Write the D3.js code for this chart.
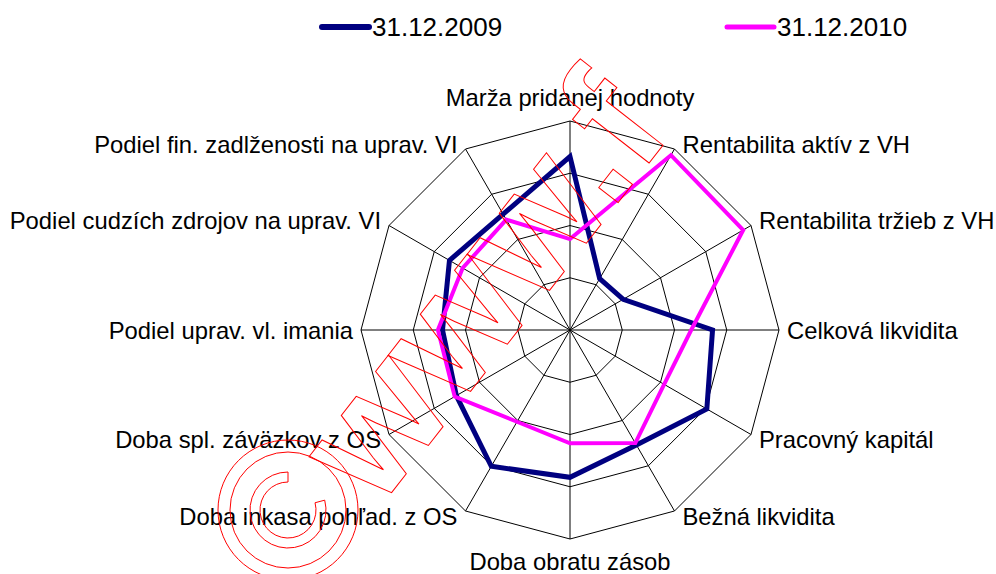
<!DOCTYPE html>
<html>
<head>
<meta charset="utf-8">
<script src="https://cdn.jsdelivr.net/npm/d3@7"></script>
<style>
  body { margin: 0; background: #fff; }
  svg { display: block; }
  text { font-family: "Liberation Sans", Arial, sans-serif; fill: #000; }
  .grid { fill: none; stroke: #000; stroke-width: 1; }
  .lbl { font-size: 23.8px; }
  .leg { font-size: 26px; }
  .wm { font-size: 165px; font-weight: bold; fill: none; stroke: #ff0000; stroke-width: 1; }
</style>
</head>
<body>
<svg id="chart" width="996" height="574"></svg>
<script>
// axis categories, clockwise from the top
var categories = [
  'Marža pridanej hodnoty',
  'Rentabilita aktív z VH',
  'Rentabilita tržieb z VH',
  'Celková likvidita',
  'Pracovný kapitál',
  'Bežná likvidita',
  'Doba obratu zásob',
  'Doba inkasa pohľad. z OS',
  'Doba spl. záväzkov z OS',
  'Podiel uprav. vl. imania',
  'Podiel cudzích zdrojov na uprav. VI',
  'Podiel fin. zadlženosti na uprav. VI'
];

// series values (share of the outer ring)
var values2009 = [0.83, 0.284, 0.294, 0.682, 0.756, 0.635, 0.705, 0.753, 0.628, 0.61, 0.666, 0.64];
var values2010 = [0.435, 0.966, 0.957, 0.58, 0.52, 0.625, 0.542, 0.507, 0.637, 0.632, 0.593, 0.61];

var seriesNames = ['31.12.2009', '31.12.2010'];
var ringTicks = [0.25, 0.5, 0.75, 1];

var svg = d3.select('#chart');
var cx = 570, cy = 330, R = 209;

var r = d3.scaleLinear().domain([0, 1]).range([0, R]);
var ang = d3.scaleLinear().domain([0, categories.length]).range([0, 2 * Math.PI]);

var g = svg.append('g').attr('transform', 'translate(' + cx + ',' + cy + ')');

function pt(i, v) {
  var a = ang(i);
  return [Math.sin(a) * r(v), -Math.cos(a) * r(v)];
}

//rings
ringTicks.forEach(function(t){
  g.append('polygon')
    .attr('class', 'grid')
    .attr('points', categories.map(function(c, i){ return pt(i, t).join(','); }).join(' '));
});

//spokes
categories.forEach(function(c, i){
  var p = pt(i, 1);
  g.append('line')
    .attr('class', 'grid')
    .attr('x1', 0).attr('y1', 0)
    .attr('x2', p[0]).attr('y2', p[1]);
});

//series lines
var radial = d3.lineRadial()
  .angle(function(d, i){ return ang(i); })
  .radius(function(d){ return r(d); })
  .curve(d3.curveLinearClosed);

g.append('path')
  .datum(values2009)
  .attr('d', radial)
  .attr('fill', 'none')
  .attr('stroke', '#000080')
  .attr('stroke-width', 5)
  .attr('stroke-linejoin', 'miter');

g.append('path')
  .datum(values2010)
  .attr('d', radial)
  .attr('fill', 'none')
  .attr('stroke', '#ff00ff')
  .attr('stroke-width', 4)
  .attr('stroke-linejoin', 'miter');

//category labels
categories.forEach(function(c, i){
  var p = pt(i, 1);
  var s = Math.sin(ang(i)), k = -Math.cos(ang(i));
  var anchor = Math.abs(s) < 0.01 ? 'middle' : (s > 0 ? 'start' : 'end');
  var x = p[0] + (Math.abs(s) < 0.01 ? 0 : (s > 0 ? 8 : -8));
  var y = p[1];
  if (Math.abs(s) < 0.01) y += k < 0 ? -24 : 22;
  else if (k < -0.1) y -= 5;
  else if (k > 0.1) y += 5;
  g.append('text')
    .attr('class', 'lbl')
    .attr('x', x)
    .attr('y', y)
    .attr('dy', '0.36em')
    .attr('text-anchor', anchor)
    .text(c);
});

//legend
var legX = [322, 727];
var legColors = ['#000080', '#ff00ff'];
var legWidth = [6, 5];
seriesNames.forEach(function(n, i){
  svg.append('line')
    .attr('x1', legX[i]).attr('x2', legX[i] + 47)
    .attr('y1', 27).attr('y2', 27)
    .attr('stroke', legColors[i])
    .attr('stroke-width', legWidth[i])
    .attr('stroke-linecap', 'round');
  svg.append('text')
    .attr('class', 'leg')
    .attr('x', legX[i] + 50)
    .attr('y', 27)
    .attr('dy', '0.36em')
    .text(n);
});

//watermark overlay
var wm = svg.append('g');
wm.append('text')
  .attr('class', 'wm')
  .attr('transform', 'translate(378,510) rotate(-52)')
  .text('www.f');

var cop = wm.append('g').attr('transform', 'translate(288,510)');
[70, 58].forEach(function(rr){
  cop.append('circle').attr('r', rr)
    .attr('fill', 'none').attr('stroke', '#ff0000').attr('stroke-width', 1);
});
cop.append('path')
  .attr('d', d3.arc().innerRadius(28).outerRadius(38)
    .startAngle(75 * Math.PI / 180).endAngle(2 * Math.PI)())
  .attr('fill', 'none').attr('stroke', '#ff0000').attr('stroke-width', 1);
</script>
</body>
</html>
